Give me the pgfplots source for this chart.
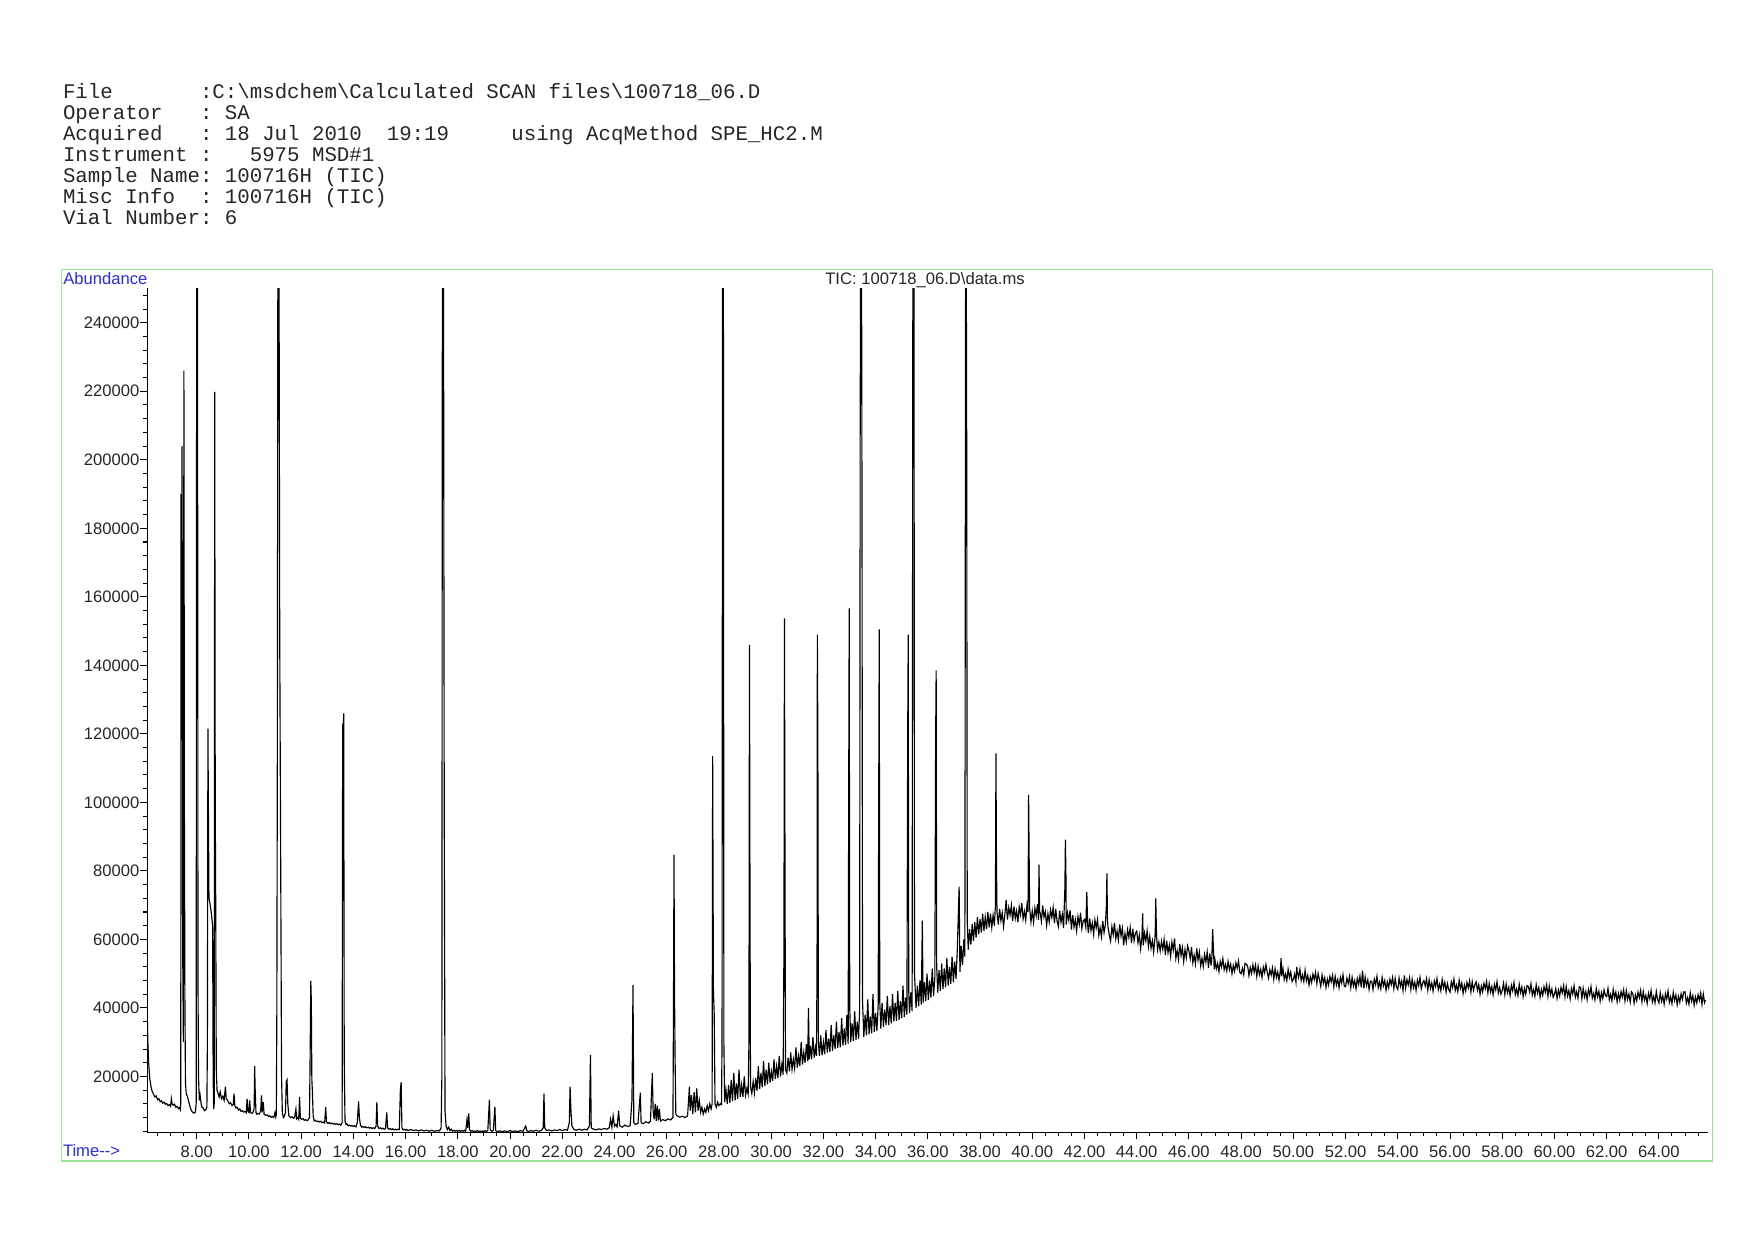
\documentclass[border=0pt]{standalone}
\usepackage{fontspec}
\setmainfont{Liberation Sans}
\newfontfamily\monofont{Liberation Mono}
\usepackage{pgfplots}
\pgfplotsset{compat=1.18}
\definecolor{framegreen}{RGB}{150,230,150}
\definecolor{lblblue}{RGB}{45,45,215}
\begin{document}
\frenchspacing
\begin{tikzpicture}[x=0.48bp,y=0.48bp]
\path[use as bounding box, fill=white] (0,0) rectangle (1754,1240);
\begin{scope}[every node/.style={anchor=base west, inner sep=0pt, font=\monofont\fontsize{10}{12}\selectfont, text=black!85}]
\node at (62.6,1240-98.8) {File\ \ \ \ \ \ \ :C:\textbackslash msdchem\textbackslash Calculated\ SCAN\ files\textbackslash 100718\_06.D};
\node at (62.6,1240-119.7) {Operator\ \ \ :\ SA};
\node at (62.6,1240-140.6) {Acquired\ \ \ :\ 18\ Jul\ 2010\ \ 19:19\ \ \ \ \ using\ AcqMethod\ SPE\_HC2.M};
\node at (62.6,1240-161.5) {Instrument\ :\ \ \ 5975\ MSD\#1};
\node at (62.6,1240-182.4) {Sample\ Name:\ 100716H\ (TIC)};
\node at (62.6,1240-203.3) {Misc\ Info\ \ :\ 100716H\ (TIC)};
\node at (62.6,1240-224.2) {Vial\ Number:\ 6};
\end{scope}
\draw[framegreen, line width=0.7bp] (61.5,1240-1161) rectangle (1712.5,1240-269.5);
\begin{axis}[
  at={(70.70bp,51.70bp)}, anchor=south west,
  scale only axis, width=749.1bp, height=405bp,
  xmin=6.108, xmax=65.88, ymin=3700, ymax=250000,
  axis lines=left, axis line style={-, line width=0.5bp, black},
  tick align=outside,
  xtick={8,10,12,14,16,18,20,22,24,26,28,30,32,34,36,38,40,42,44,46,48,50,52,54,56,58,60,62,64},
  xticklabels={8.00,10.00,12.00,14.00,16.00,18.00,20.00,22.00,24.00,26.00,28.00,30.00,32.00,34.00,36.00,38.00,40.00,42.00,44.00,46.00,48.00,50.00,52.00,54.00,56.00,58.00,60.00,62.00,64.00},
  minor xtick={6.5,7,...,65.5},
  ytick={20000,40000,60000,80000,100000,120000,140000,160000,180000,200000,220000,240000},
  yticklabels={20000,40000,60000,80000,100000,120000,140000,160000,180000,200000,220000,240000},
  minor ytick={4000,8000,...,248000},
  scaled y ticks=false, scaled x ticks=false,
  tick style={black, line width=0.5bp},
  major tick length=3.4bp, minor tick length=2bp,
  tick label style={font=\fontsize{8}{9}\selectfont, text=black!85},
  yticklabel style={inner xsep=0.2bp},
  xticklabel style={inner ysep=3bp},
]
\addplot[black, line width=0.55bp, mark=none] coordinates {
(6.11,37000) (6.13,30000) (6.16,24000) (6.2,19500) (6.25,17000) (6.3,15500) (6.35,14800) (6.4,14000) (6.45,14300) (6.5,13200) (6.55,13500) (6.6,12600) (6.65,12900) (6.7,12200) (6.75,12500) (6.8,11900) (6.85,12100) (6.9,11500) (6.95,11800) (7.0,11300) (7.03,13500) (7.06,12000) (7.1,11600) (7.15,11900) (7.2,11000) (7.25,11300) (7.3,10600) (7.34,10900) (7.37,10300)
(7.39,12000) (7.40,190000) (7.42,150000) (7.44,204000) (7.46,60000) (7.49,30000) (7.51,226000) (7.53,95000) (7.55,40000) (7.57,18000) (7.6,15000) (7.65,14000) (7.7,12500) (7.75,11000) (7.8,10000) (7.85,9500) (7.9,9300) (7.95,9600)
(7.98,12000) (8.0,270000) (8.03,270000) (8.05,47000) (8.07,20000) (8.1,13000) (8.13,14500) (8.17,12000) (8.2,11000) (8.25,10800) (8.3,10000) (8.35,10300) (8.39,11000)
(8.41,30000) (8.43,121500) (8.45,96000) (8.47,72000) (8.52,70000) (8.57,67000) (8.61,64000) (8.63,20000) (8.65,10500) (8.67,12000) (8.69,219800) (8.71,100000) (8.73,68000) (8.75,22000) (8.78,16000) (8.82,15000)
(8.86,14000) (8.9,15500) (8.95,13500) (9.0,14200) (9.05,13000) (9.1,17000) (9.13,13500) (9.2,12800) (9.25,12000) (9.3,12300) (9.35,11500) (9.4,11800) (9.43,15000) (9.46,11500) (9.5,10800) (9.55,11000) (9.6,10200) (9.65,10500) (9.7,9800) (9.75,10000) (9.8,9600) (9.85,9800) (9.9,9400) (9.93,13500) (9.96,9800) (10.0,9500) (10.03,13000) (10.06,9500) (10.1,9200) (10.15,9400) (10.2,10500) (10.22,23000) (10.24,16000) (10.27,9500) (10.3,9000) (10.35,9200) (10.4,9000) (10.45,10000) (10.48,14500) (10.51,9500) (10.55,12500) (10.58,9000) (10.65,8600) (10.7,8800) (10.75,8300) (10.8,8500) (10.85,8100) (10.9,8300) (10.95,8000) (11.0,9500) (11.03,8200)
(11.05,9000) (11.07,40000) (11.09,120000) (11.11,270000) (11.15,270000) (11.18,148000) (11.22,77000) (11.25,20000) (11.28,9500) (11.32,8000) (11.36,8400) (11.4,9500) (11.43,18500) (11.46,19000) (11.49,12000) (11.53,8500) (11.6,8000) (11.65,8200) (11.7,7800) (11.75,8000) (11.8,10500) (11.83,7600) (11.88,8000) (11.91,7500) (11.94,14000) (11.97,7800) (12.02,7500) (12.07,7700) (12.12,7200) (12.17,7400) (12.22,7100) (12.27,7300) (12.32,8000) (12.35,31000) (12.37,47900) (12.39,42000) (12.41,19000) (12.43,16000) (12.46,8500) (12.5,7000) (12.55,7200) (12.6,6800) (12.65,7000) (12.7,6700) (12.75,6900) (12.8,6500) (12.85,6700) (12.9,6400) (12.94,11000) (12.97,6800) (13.02,6300) (13.07,6500) (13.12,6200) (13.17,6400) (13.22,6100) (13.27,6300) (13.32,6000) (13.37,6200) (13.42,5900) (13.47,6100) (13.52,5800) (13.57,6500)
(13.59,123000) (13.61,120000) (13.63,126000) (13.65,25500) (13.68,7000) (13.72,6000) (13.75,6200) (13.8,5600) (13.85,5800) (13.9,5500) (13.95,5700) (14.0,5400) (14.05,5600) (14.1,5300) (14.15,6500) (14.2,12700) (14.23,8000) (14.27,5800) (14.32,5200) (14.37,5400) (14.42,5100) (14.47,5300) (14.52,5000) (14.57,5200) (14.62,4900) (14.67,5100) (14.72,4800) (14.77,5000) (14.82,4800) (14.87,5500) (14.9,12500) (14.93,5500) (14.98,4800) (15.03,5000) (15.08,4700) (15.13,4900) (15.18,4600) (15.23,4800) (15.28,9500) (15.31,5000) (15.36,4600) (15.41,4800) (15.46,4500) (15.51,4700) (15.56,4400) (15.61,4600) (15.66,4400) (15.71,4600) (15.76,4500) (15.8,16000) (15.83,18300) (15.86,5000) (15.9,4400) (15.95,4600) (16.0,4300) (16.05,4500)
(16.1,4200) (16.2,4500) (16.3,4200) (16.4,4400) (16.5,4100) (16.6,4400) (16.7,4100) (16.8,4300) (16.9,4000) (17.0,4300) (17.1,4000) (17.2,4200) (17.3,4100) (17.36,5000)
(17.39,20000) (17.41,270000) (17.45,270000) (17.48,100000) (17.51,10000) (17.55,5500) (17.6,4500) (17.65,5200) (17.7,4200) (17.75,4600) (17.8,4000) (17.85,4300) (17.9,4000) (17.95,4200) (18.0,4000) (18.05,4300) (18.1,3900) (18.15,4200) (18.2,4000) (18.25,4300) (18.3,3900) (18.35,7300) (18.38,5000) (18.42,9200) (18.45,4500) (18.5,4000) (18.55,4200) (18.6,3900) (18.65,4100) (18.7,3900) (18.75,4200) (18.8,3900) (18.85,4100) (18.9,3900) (18.95,4100) (19.0,3900) (19.05,4200) (19.1,3900) (19.15,4300) (19.21,13200) (19.24,4500) (19.3,4000) (19.36,4200) (19.42,11200) (19.45,4300) (19.5,3900) (19.6,4100) (19.7,3900) (19.8,4100) (19.9,3900) (20.0,4200) (20.1,3900) (20.2,4100) (20.3,3900) (20.4,4200) (20.5,4000) (20.6,5500) (20.65,4100) (20.7,3900) (20.8,4200) (20.9,4000) (21.0,4300) (21.1,4000) (21.2,4200) (21.27,5000) (21.30,15000) (21.33,5000) (21.4,4200) (21.5,4400) (21.6,4100) (21.7,4400) (21.8,4200) (21.9,4500) (22.0,4200) (22.1,4500) (22.2,4300) (22.27,6500) (22.30,17000) (22.33,10500) (22.37,5500) (22.45,4500) (22.55,4300) (22.65,4600) (22.75,4300) (22.85,4600) (22.95,4400) (23.04,5500) (23.08,26300) (23.11,5000) (23.2,4600) (23.3,4400) (23.4,4700) (23.5,4500) (23.6,4800) (23.7,4600) (23.8,5000) (23.85,7500) (23.9,5200) (23.95,8500) (24.0,5500) (24.05,6000) (24.1,5300) (24.16,10000) (24.2,5600) (24.3,5200) (24.4,5800) (24.5,5400) (24.6,5600) (24.67,13000) (24.71,46700) (24.74,6500) (24.8,6000) (24.9,6300) (24.99,15300) (25.02,6500) (25.1,6200) (25.2,6800) (25.3,6400) (25.38,7000) (25.42,15500) (25.45,21000) (25.48,10000) (25.52,7500) (25.56,12000) (25.6,7000) (25.64,11500) (25.68,7200) (25.72,10500) (25.76,7000) (25.85,7400) (25.95,7100) (26.05,7600) (26.15,7300) (26.24,8000) (26.26,40000) (26.28,84700) (26.30,45000) (26.32,26000) (26.35,9000) (26.4,8500) (26.5,8100) (26.6,8400) (26.7,8000) (26.8,8500) (26.87,17000) (26.9,10000) (26.95,14500) (27.0,9000) (27.05,15500) (27.1,9500) (27.15,16500) (27.2,10000) (27.25,13000) (27.3,9500) (27.35,11000) (27.4,9000) (27.45,10500) (27.5,9500) (27.55,11500) (27.6,10000) (27.65,12000) (27.7,10500) (27.74,12000)
(27.76,113500) (27.79,44700) (27.82,38300) (27.85,12000) (27.9,11000) (27.95,12500) (28.0,11500) (28.05,12000) (28.1,11800) (28.12,30000) (28.14,270000) (28.17,270000) (28.19,30000) (28.22,12500)
(28.27,16000) (28.32,12000) (28.37,17500) (28.42,12300) (28.47,19000) (28.52,12800) (28.57,21000) (28.62,13000) (28.67,18000) (28.72,13500) (28.77,22000) (28.82,14000) (28.87,17500) (28.92,14000) (28.97,20000) (29.02,14500) (29.07,16500) (29.12,14800) (29.15,30000) (29.17,146000) (29.19,73500) (29.21,17000) (29.26,15000) (29.31,18500) (29.36,15200) (29.41,19500) (29.46,15800) (29.51,23000) (29.56,16300) (29.61,21000) (29.66,16800) (29.71,24500) (29.76,17200) (29.81,22000) (29.86,17700) (29.91,24000) (29.96,18200) (30.01,21500) (30.06,18700) (30.11,25000) (30.16,19200) (30.21,23000) (30.26,19500) (30.31,26000) (30.36,20000) (30.41,23500) (30.46,20500)
(30.49,56700) (30.51,153700) (30.53,83900) (30.55,22000) (30.6,21000) (30.65,25500) (30.7,21500) (30.75,27000) (30.8,22000) (30.85,25000) (30.9,22300) (30.95,28500) (31.0,22600) (31.05,26000) (31.1,23000) (31.15,30000) (31.2,23500) (31.25,27000) (31.3,24000) (31.35,29500) (31.4,24500) (31.43,40000) (31.46,25000) (31.5,29000) (31.55,25000) (31.6,31500) (31.65,25500) (31.7,28500) (31.74,26000)
(31.76,60000) (31.77,149000) (31.79,116700) (31.81,30000) (31.85,26000) (31.9,32000) (31.95,26200) (32.0,30000) (32.05,26500) (32.1,33500) (32.15,27000) (32.2,31000) (32.25,27200) (32.3,35000) (32.35,27500) (32.4,32000) (32.45,28000) (32.5,36000) (32.55,28300) (32.6,33000) (32.65,28500) (32.7,37000) (32.75,29000) (32.8,34000) (32.85,29200) (32.9,38000) (32.95,29500)
(32.97,101500) (32.99,156600) (33.01,40000) (33.05,30000) (33.1,35500) (33.15,30300) (33.2,39000) (33.25,30700) (33.3,36000) (33.35,31000) (33.39,40000) (33.41,207800) (33.43,270000) (33.46,270000) (33.48,187000) (33.5,42000) (33.55,31500) (33.6,38000) (33.65,32000) (33.7,42500) (33.75,32300) (33.8,37500) (33.85,32600) (33.9,44000) (33.95,33000) (34.0,38500) (34.05,33300) (34.1,41000)
(34.12,101500) (34.14,150500) (34.16,42000) (34.2,34000) (34.25,41500) (34.3,34500) (34.35,39500) (34.4,35000) (34.45,43500) (34.5,35000) (34.55,40500) (34.6,35500) (34.65,44000) (34.7,36000) (34.75,41500) (34.8,36200) (34.85,45000) (34.9,36500) (34.95,42000) (35.0,37000) (35.05,46500) (35.1,37300) (35.15,43000) (35.2,38000)
(35.23,119900) (35.25,149000) (35.27,45000) (35.3,38500) (35.35,44500) (35.4,39000) (35.43,270000) (35.47,270000) (35.49,50000) (35.55,40000) (35.6,46500) (35.65,40500) (35.7,48000) (35.75,41000) (35.79,65500) (35.82,41500) (35.87,47500) (35.92,42000) (35.97,50000) (36.02,42300) (36.07,48000) (36.12,43000) (36.17,51500) (36.22,43500) (36.27,49000)
(36.30,118200) (36.32,138500) (36.34,52000) (36.38,44500) (36.43,51000) (36.48,45000) (36.53,53000) (36.58,45500) (36.63,51500) (36.68,46000) (36.73,54500) (36.78,46500) (36.83,52000) (36.88,47000) (36.93,55000) (36.98,47500) (37.03,53500) (37.08,48500) (37.13,57000) (37.2,75400) (37.23,50500) (37.28,58000) (37.33,52500) (37.38,60000) (37.42,55000)
(37.44,204600) (37.45,270000) (37.47,270000) (37.49,204600) (37.51,65000) (37.55,57000) (37.6,63000) (37.65,58500) (37.7,64500) (37.75,59500) (37.8,65000) (37.85,60500) (37.9,66500) (37.95,61500) (38.0,66000) (38.05,62000) (38.1,67500) (38.15,62500) (38.2,66500) (38.25,63000) (38.3,68000) (38.35,63500) (38.4,67500) (38.45,63500) (38.5,67000) (38.55,64000) (38.59,70000)
(38.61,114300) (38.63,82200) (38.65,68000) (38.70,64300) (38.75,68900) (38.80,65500) (38.85,67800) (38.90,63800) (38.95,67200) (39.00,71500)
(39.05,65800) (39.10,69300) (39.15,67100) (39.20,70000) (39.25,65400) (39.30,69600) (39.35,66100) (39.40,68300) (39.45,65000) (39.50,69500) (39.55,67200) (39.60,70600) (39.65,66000) (39.70,68200) (39.75,65600) (39.80,70200) (39.84,68000) (39.86,102200) (39.88,85200) (39.90,69100) (39.95,65100)
(40.00,68300) (40.05,65000) (40.10,69200) (40.15,66900) (40.20,70300) (40.24,65700) (40.26,81800) (40.28,68000) (40.30,67900) (40.35,65300) (40.40,69900) (40.45,66500) (40.50,68100) (40.55,64100) (40.60,67500) (40.65,65100) (40.70,68600) (40.75,66400) (40.80,69300) (40.85,64700) (40.90,68900) (40.95,65400)
(41.00,63800) (41.05,68400) (41.10,65000) (41.15,67300) (41.20,63300) (41.25,75000) (41.27,89100) (41.29,78800) (41.30,64300) (41.35,67800) (41.40,65600) (41.45,68500) (41.50,62900) (41.55,67100) (41.60,63600) (41.65,65800) (41.70,62500) (41.75,66700) (41.80,64400) (41.85,67800) (41.90,63200) (41.95,65400)
(42.00,65800) (42.05,63600) (42.09,73800) (42.12,64500) (42.15,61900) (42.20,66100) (42.25,62600) (42.30,64800) (42.35,61500) (42.40,65700) (42.45,63400) (42.50,65800) (42.55,61200) (42.60,63400) (42.65,60800) (42.70,65400) (42.75,62000) (42.80,64300) (42.84,70000) (42.86,79300) (42.88,66000) (42.90,63700) (42.95,61300)
(43.00,59500) (43.05,63700) (43.10,61400) (43.15,64800) (43.20,60200) (43.25,62400) (43.30,59800) (43.35,64400) (43.40,61000) (43.45,63300) (43.50,58300) (43.55,61700) (43.60,59300) (43.65,62800) (43.70,60600) (43.75,63500) (43.80,58900) (43.85,63100) (43.90,59600) (43.95,61800)
(44.00,62400) (44.05,59000) (44.10,61300) (44.15,57300) (44.20,60700) (44.23,67600) (44.25,58300) (44.30,61800) (44.35,59600) (44.40,62500) (44.45,57900) (44.50,60900) (44.55,57400) (44.60,59600) (44.65,56300) (44.70,60500) (44.72,65000) (44.73,72000) (44.76,61000) (44.80,57000) (44.85,59200) (44.90,56600) (44.95,59500)
(45.00,57100) (45.05,60000) (45.10,55400) (45.15,59600) (45.20,56100) (45.25,58300) (45.30,55000) (45.35,59200) (45.40,56900) (45.45,60300) (45.50,54500) (45.55,56700) (45.60,54100) (45.65,58700) (45.70,55300) (45.75,57600) (45.80,53600) (45.85,57000) (45.90,54600) (45.95,58100)
(46.00,56700) (46.05,54400) (46.10,57800) (46.15,53200) (46.20,55400) (46.25,52800) (46.30,57400) (46.35,54000) (46.40,56300) (46.45,52300) (46.50,54500) (46.55,52100) (46.60,55600) (46.65,53400) (46.70,56300) (46.75,51700) (46.80,55900) (46.85,52400) (46.88,55000) (46.91,63000) (46.94,57000) (46.97,51300)
(47.00,53900) (47.05,51400) (47.10,53000) (47.15,50600) (47.20,53600) (47.25,52000) (47.30,54400) (47.35,51100) (47.40,52700) (47.45,50800) (47.50,53600) (47.55,51200) (47.60,52800) (47.65,50000) (47.70,52400) (47.75,50700) (47.80,53200) (47.85,51600) (47.90,53700) (47.95,50400)
(48.00,50000) (48.05,51600) (48.10,49700) (48.15,53000) (48.20,52800) (48.25,52200) (48.30,49400) (48.35,51800) (48.40,50100) (48.45,52600) (48.50,50400) (48.55,52500) (48.60,49200) (48.65,52200) (48.70,49700) (48.75,51300) (48.80,48900) (48.85,51900) (48.90,50300) (48.95,52700)
(49.00,50400) (49.05,48700) (49.10,51200) (49.15,49600) (49.20,51700) (49.25,48400) (49.30,51400) (49.35,48900) (49.40,50500) (49.45,48100) (49.50,50800) (49.53,54500) (49.55,49200) (49.60,51600) (49.65,48300) (49.70,49900) (49.75,48000) (49.80,51300) (49.85,48900) (49.90,50500) (49.95,47700)
(50.00,48300) (50.05,49900) (50.10,47500) (50.13,52000) (50.15,50500) (50.20,48900) (50.25,51300) (50.30,48000) (50.35,49600) (50.40,47700) (50.45,51000) (50.50,47900) (50.55,49500) (50.60,46700) (50.65,49100) (50.70,47400) (50.75,49900) (50.80,48300) (50.85,50400) (50.90,47100) (50.95,50100)
(51.00,48200) (51.05,46300) (51.10,49600) (51.15,47200) (51.20,48800) (51.25,46000) (51.30,48400) (51.35,46700) (51.40,49200) (51.45,47600) (51.50,49500) (51.55,46200) (51.60,49200) (51.65,46700) (51.70,48300) (51.75,45900) (51.80,48900) (51.85,47300) (51.90,49700) (51.95,46400)
(52.00,46200) (52.05,48700) (52.10,47100) (52.15,49200) (52.20,45900) (52.25,48900) (52.30,46400) (52.35,48000) (52.40,45600) (52.45,48600) (52.50,46900) (52.55,49300) (52.60,46000) (52.65,50900) (52.70,45700) (52.75,49000) (52.80,46600) (52.85,48200) (52.90,45400) (52.95,47800)
(53.00,47800) (53.05,45400) (53.10,48400) (53.15,46800) (53.20,49200) (53.25,45900) (53.30,47500) (53.35,45600) (53.40,48900) (53.45,46500) (53.50,48000) (53.55,45200) (53.60,47600) (53.65,45900) (53.70,48400) (53.75,46800) (53.80,48900) (53.85,45600) (53.90,48600) (53.95,46100)
(54.00,45400) (54.05,48700) (54.10,46300) (54.15,47900) (54.20,45100) (54.25,49500) (54.30,45800) (54.35,48300) (54.40,46700) (54.45,48800) (54.50,45400) (54.55,48400) (54.60,45900) (54.65,47500) (54.70,45100) (54.75,48100) (54.80,46500) (54.85,48900) (54.90,45600) (54.95,47200)
(55.00,48000) (55.05,46400) (55.10,48500) (55.15,45200) (55.20,48200) (55.25,45700) (55.30,47300) (55.35,44900) (55.40,47900) (55.45,46300) (55.50,48600) (55.55,45300) (55.60,46900) (55.65,45000) (55.70,48300) (55.75,45900) (55.80,47500) (55.85,44700) (55.90,47100) (55.95,45400)
(56.00,44600) (56.05,47600) (56.10,46000) (56.15,48400) (56.20,45100) (56.25,46700) (56.30,44800) (56.35,48100) (56.40,45700) (56.45,47300) (56.50,44250) (56.55,46650) (56.60,44950) (56.65,47450) (56.70,45850) (56.75,47950) (56.80,44650) (56.85,47650) (56.90,45150) (56.95,46750)
(57.00,47600) (57.05,45200) (57.10,46800) (57.15,44000) (57.20,46400) (57.25,44700) (57.30,47200) (57.35,45600) (57.40,47700) (57.45,44400) (57.50,47150) (57.55,44650) (57.60,46250) (57.65,43850) (57.70,46850) (57.75,45250) (57.80,47650) (57.85,44350) (57.90,45950) (57.95,44050)
(58.00,45100) (58.05,47200) (58.10,43900) (58.15,46900) (58.20,44400) (58.25,46000) (58.30,43600) (58.35,46600) (58.40,45000) (58.45,47400) (58.50,43900) (58.55,45500) (58.60,43600) (58.65,46900) (58.70,44500) (58.75,46100) (58.80,43300) (58.85,45700) (58.90,44000) (58.95,46500)
(59.00,46250) (59.05,44650) (59.10,47050) (59.15,43750) (59.20,45350) (59.25,43450) (59.30,46750) (59.35,44350) (59.40,45950) (59.45,43150) (59.50,45400) (59.55,43700) (59.60,46200) (59.65,44600) (59.70,46700) (59.75,43400) (59.80,46400) (59.85,43900) (59.90,45500) (59.95,43100)
(60.00,44000) (60.05,45600) (60.10,42800) (60.15,45200) (60.20,43500) (60.25,46000) (60.30,44400) (60.35,46500) (60.40,43200) (60.45,46200) (60.50,43450) (60.55,45050) (60.60,42650) (60.65,45650) (60.70,44050) (60.75,46450) (60.80,43150) (60.85,44750) (60.90,42850) (60.95,46150)
(61.00,46000) (61.05,42700) (61.10,45700) (61.15,43200) (61.20,44800) (61.25,42400) (61.30,45400) (61.35,43800) (61.40,46200) (61.45,42900) (61.50,44250) (61.55,42350) (61.60,45650) (61.65,43250) (61.70,44850) (61.75,42050) (61.80,44450) (61.85,42750) (61.90,45250) (61.95,43650)
(62.00,43300) (62.05,45700) (62.10,42400) (62.15,44000) (62.20,42100) (62.25,45400) (62.30,43000) (62.35,44600) (62.40,41800) (62.45,44200) (62.50,42300) (62.55,44800) (62.60,43200) (62.65,45300) (62.70,42000) (62.75,45000) (62.80,42500) (62.85,44100) (62.90,41700) (62.95,44700)
(63.00,44200) (63.05,41400) (63.10,43800) (63.15,42100) (63.20,44600) (63.25,43000) (63.30,45100) (63.35,41800) (63.40,44800) (63.45,42300) (63.50,43700) (63.55,41300) (63.60,44300) (63.65,42700) (63.70,45100) (63.75,41800) (63.80,43400) (63.85,41500) (63.90,44800) (63.95,42400)
(64.00,41450) (64.05,44450) (64.10,41950) (64.15,43550) (64.20,41150) (64.25,44150) (64.30,42550) (64.35,44950) (64.40,41650) (64.45,43250) (64.50,41250) (64.55,44550) (64.60,42150) (64.65,43750) (64.70,40950) (64.75,43350) (64.80,41650) (64.85,44150) (64.90,42550) (64.95,44650)
(65.00,44700) (65.05,41400) (65.10,43000) (65.15,41100) (65.20,44400) (65.25,42000) (65.30,43600) (65.35,40800) (65.40,43200) (65.45,41500) (65.50,43850) (65.55,42250) (65.60,44350) (65.65,41050) (65.70,44050) (65.75,41550) (65.78,42300)
};
\end{axis}
\node[anchor=west, inner sep=0pt, text=lblblue, font=\fontsize{8}{9}\selectfont] at (63,1240-278.5) {Abundance};
\node[anchor=west, inner sep=0pt, text=lblblue, font=\fontsize{8}{9}\selectfont] at (62.6,1240-1151) {Time-{}-{}>};
\node[inner sep=0pt, text=black!85, font=\fontsize{8}{9}\selectfont] at (925,1240-280.5) {TIC: 100718\_06.D\textbackslash data.ms};
\end{tikzpicture}
\end{document}
